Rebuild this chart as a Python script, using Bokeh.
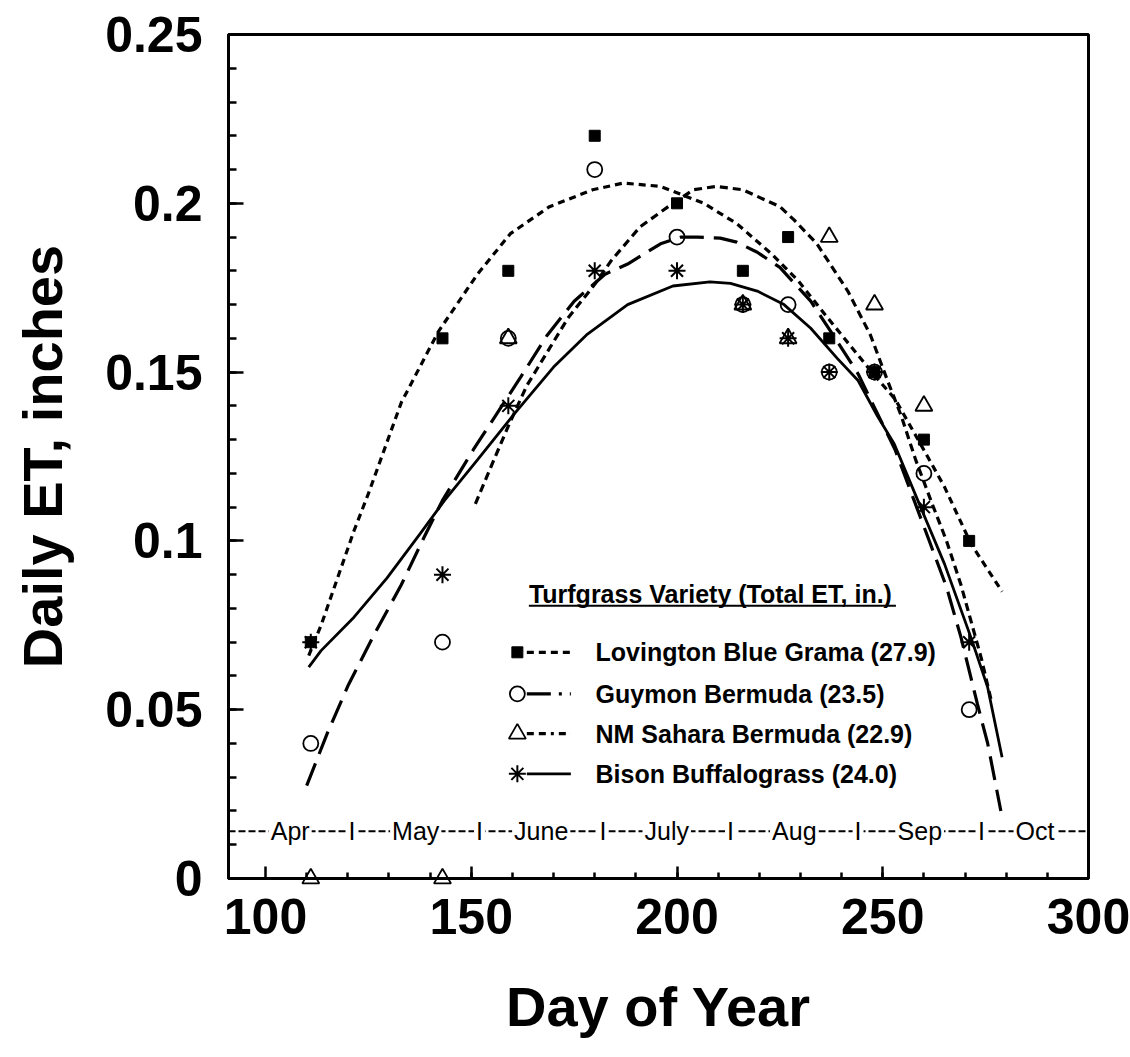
import math
from bokeh.plotting import figure
from bokeh.models import FixedTicker
from bokeh.core.properties import value
from bokeh.embed import file_html
from bokeh.resources import INLINE

nan = float("nan")

# ---------------- data ----------------
days = [111, 143, 159, 180, 200, 216, 227, 237, 248, 260, 271]
lovington = [0.07, 0.16, 0.18, 0.22, 0.20, 0.18, 0.19, 0.16, 0.15, 0.13, 0.10]
guymon = [0.04, 0.07, 0.16, 0.21, 0.19, 0.17, 0.17, 0.15, 0.15, 0.12, 0.05]
sahara = [0.0, 0.0, 0.16, nan, nan, 0.17, 0.16, 0.19, 0.17, 0.14, nan]
bison = [0.07, 0.09, 0.14, 0.18, 0.18, 0.17, 0.16, 0.15, 0.15, 0.11, 0.07]

# fitted curves
lov_fit_x = [110.5, 113.5, 117.5, 121.5, 125, 133, 142, 151.5, 159.5, 169, 179.5, 187, 196,
             206.5, 214.5, 223, 229.5, 236, 244, 248, 253, 259.5, 265, 271.5, 279]
lov_fit_y = [0.066, 0.075, 0.089, 0.103, 0.114, 0.141, 0.162, 0.179, 0.191, 0.199, 0.204, 0.206,
             0.205, 0.200, 0.194, 0.185, 0.177, 0.167, 0.155, 0.149, 0.142, 0.128, 0.116, 0.099, 0.085]

guy_fit_x = [110, 115, 120, 126.5, 133, 138.5, 143, 150.5, 162, 168.5, 175, 182.5, 188, 196, 201,
             205, 210.5, 214.5, 219.5, 225, 232.5, 239, 244, 253, 261, 265.5, 269, 273, 275.5, 278.7]
guy_fit_y = [0.0275, 0.043, 0.057, 0.0725, 0.087, 0.101, 0.112, 0.127, 0.1485, 0.161, 0.171, 0.179,
             0.182, 0.188, 0.190, 0.190, 0.1897, 0.1885, 0.1855, 0.181, 0.171, 0.159, 0.1495, 0.127,
             0.101, 0.0863, 0.0715, 0.0517, 0.040, 0.020]

sah_fit_x = [151, 155.5, 159, 163.5, 168.5, 173.5, 180, 184, 191, 199, 204, 209.5, 216, 225, 228.5,
             234, 241.5, 247, 251, 254.5, 258, 262, 265.5, 269, 271.5, 274, 276.5]
sah_fit_y = [0.111, 0.124, 0.134, 0.146, 0.156, 0.166, 0.176, 0.183, 0.193, 0.200, 0.204, 0.205,
             0.204, 0.199, 0.195, 0.188, 0.174, 0.161, 0.148, 0.137, 0.124, 0.111, 0.100, 0.087,
             0.076, 0.065, 0.052]

bis_fit_x = [110.5, 113.5, 121.5, 129.5, 137.5, 143.5, 151.5, 160.5, 170, 178, 188, 199, 208, 213,
             219.5, 226, 232.5, 239, 244, 248.7, 252.8, 259.2, 265, 271.4, 275.5, 279]
bis_fit_y = [0.0626, 0.0675, 0.0774, 0.089, 0.102, 0.112, 0.124, 0.1377, 0.1515, 0.161, 0.170,
             0.1755, 0.1767, 0.1763, 0.174, 0.170, 0.163, 0.154, 0.1475, 0.137, 0.1287, 0.110,
             0.0932, 0.0715, 0.0566, 0.0359]

legend_title = "Turfgrass Variety (Total ET, in.)"
legend_labels = ["Lovington Blue Grama (27.9)", "Guymon Bermuda (23.5)",
                 "NM Sahara Bermuda (22.9)", "Bison Buffalograss (24.0)"]

month_names = ["Apr", "May", "June", "July", "Aug", "Sep", "Oct"]
month_starts = [91, 121, 152, 182, 213, 244, 274]

x_ticks = [100, 150, 200, 250, 300]
x_tick_labels = ["100", "150", "200", "250", "300"]
y_ticks = [0, 0.05, 0.1, 0.15, 0.2, 0.25]
y_tick_labels = ["0", "0.05", "0.1", "0.15", "0.2", "0.25"]

X_START, X_END = 91, 300

# ---------------- figure ----------------
p = figure(width=1130, height=1057, x_range=(X_START, X_END), y_range=(0, 0.25),
           output_backend="svg", toolbar_location=None,
           min_border_left=228, min_border_right=42, min_border_top=34, min_border_bottom=179)
p.background_fill_color = "white"
p.border_fill_color = "white"
p.outline_line_color = "black"
p.outline_line_width = 3
p.xgrid.visible = False
p.ygrid.visible = False

FONT = "Liberation Sans"

p.xaxis.ticker = FixedTicker(ticks=x_ticks, minor_ticks=list(range(110, 300, 10)))
p.xaxis.major_label_overrides = dict(zip(x_ticks, x_tick_labels))
p.yaxis.ticker = FixedTicker(ticks=y_ticks, minor_ticks=[i / 100 for i in range(1, 25)])
p.yaxis.major_label_overrides = dict(zip(y_ticks, y_tick_labels))

for ax in (p.xaxis[0], p.yaxis[0]):
    ax.axis_line_width = 3
    ax.axis_line_color = "black"
    ax.major_tick_line_width = 2.5
    ax.minor_tick_line_width = 2.5
    ax.major_tick_out = 0
    ax.minor_tick_out = 0
    ax.major_label_text_font = FONT
    ax.major_label_text_font_size = "50px"
    ax.major_label_text_font_style = "bold"
    ax.major_label_text_color = "black"
    ax.axis_label_text_font = FONT
    ax.axis_label_text_font_size = "56px"
    ax.axis_label_text_font_style = "bold"
    ax.axis_label_text_color = "black"

p.xaxis.major_tick_in = 12
p.xaxis.minor_tick_in = 6
p.yaxis.major_tick_in = 15
p.yaxis.minor_tick_in = 8
p.yaxis.major_label_standoff = 26
p.xaxis.major_label_standoff = 20
p.xaxis.axis_label = "Day of Year"
p.yaxis.axis_label = "Daily ET, inches"
p.xaxis.axis_label_standoff = 38
p.yaxis.axis_label_standoff = 28

# ---------------- month band ----------------
band_y = 0.014
bounds = month_starts[1:] + [X_END]
month_mids = [(a + b) / 2 for a, b in zip(month_starts, bounds)]
p.line([X_START, X_END], [band_y, band_y], line_color="black", line_width=2.2, line_dash="7 3")
p.text(x=month_mids, y=[band_y] * len(month_mids), text=month_names,
       text_font=value(FONT), text_font_size="25px", text_align="center",
       text_baseline="middle", text_color="black",
       background_fill_color="white", padding=2)
p.text(x=month_starts[1:], y=[band_y] * (len(month_starts) - 1), text=["I"] * (len(month_starts) - 1),
       text_font=value(FONT), text_font_size="25px", text_align="center",
       text_baseline="middle", text_color="black",
       background_fill_color="white", padding=2)

# ---------------- fitted curves ----------------
LW = 3.2
dash_lov = "7 5"
dash_guy = "24 10"
dash_sah = "8 5"
p.line(lov_fit_x, lov_fit_y, line_color="black", line_width=LW, line_dash=dash_lov)
p.line(guy_fit_x, guy_fit_y, line_color="black", line_width=LW, line_dash=dash_guy)
p.line(sah_fit_x, sah_fit_y, line_color="black", line_width=LW, line_dash=dash_sah)
p.line(bis_fit_x, bis_fit_y, line_color="black", line_width=2.8)

# ---------------- data points ----------------
def draw_markers(xs, ys):
    p.scatter(xs[0], ys[0], marker="square", size=11, fill_color="black", line_color="black",
              level="overlay")
    p.scatter(xs[1], ys[1], marker="circle", size=15, fill_color=None, line_color="black",
              line_width=1.8, level="overlay")
    p.scatter(xs[2], ys[2], marker="triangle", size=17, fill_color=None, line_color="black",
              line_width=1.8, level="overlay")
    p.scatter(xs[3], ys[3], marker="asterisk", size=17, line_color="black", line_width=2,
              level="overlay")

draw_markers([days] * 4, [lovington, guymon, sahara, bison])

# ---------------- legend ----------------
leg_marker_x = 161.2
leg_line_x = [163.5, 174.2]
leg_text_x = 180.2
leg_rows_y = [0.0670, 0.0547, 0.0429, 0.0310]
title_x, title_y, underline_y, underline_end = 164.0, 0.0842, 0.0808, 253.2
LEG_SIZE = "25px"

p.text(x=[title_x], y=[title_y], text=[legend_title], text_font=value(FONT),
       text_font_style="bold", text_font_size=LEG_SIZE, text_align="left",
       text_baseline="middle", text_color="black")
p.line([title_x, underline_end], [underline_y, underline_y], line_color="black", line_width=2)

leg_keys = [(dash_lov, LW), ("24 8 3 8", LW), ("7 5 7 5 3 5", LW), (None, 2.8)]
for (dash, lw), yy in zip(leg_keys, leg_rows_y):
    if dash is None:
        p.line(leg_line_x, [yy, yy], line_color="black", line_width=lw)
    else:
        p.line(leg_line_x, [yy, yy], line_color="black", line_width=lw, line_dash=dash)

draw_markers([[leg_marker_x]] * 4, [[y] for y in leg_rows_y])

p.text(x=[leg_text_x] * 4, y=leg_rows_y, text=legend_labels, text_font=value(FONT),
       text_font_style="bold", text_font_size=LEG_SIZE, text_align="left",
       text_baseline="middle", text_color="black")

open("out.html", "w").write(file_html(p, INLINE))
